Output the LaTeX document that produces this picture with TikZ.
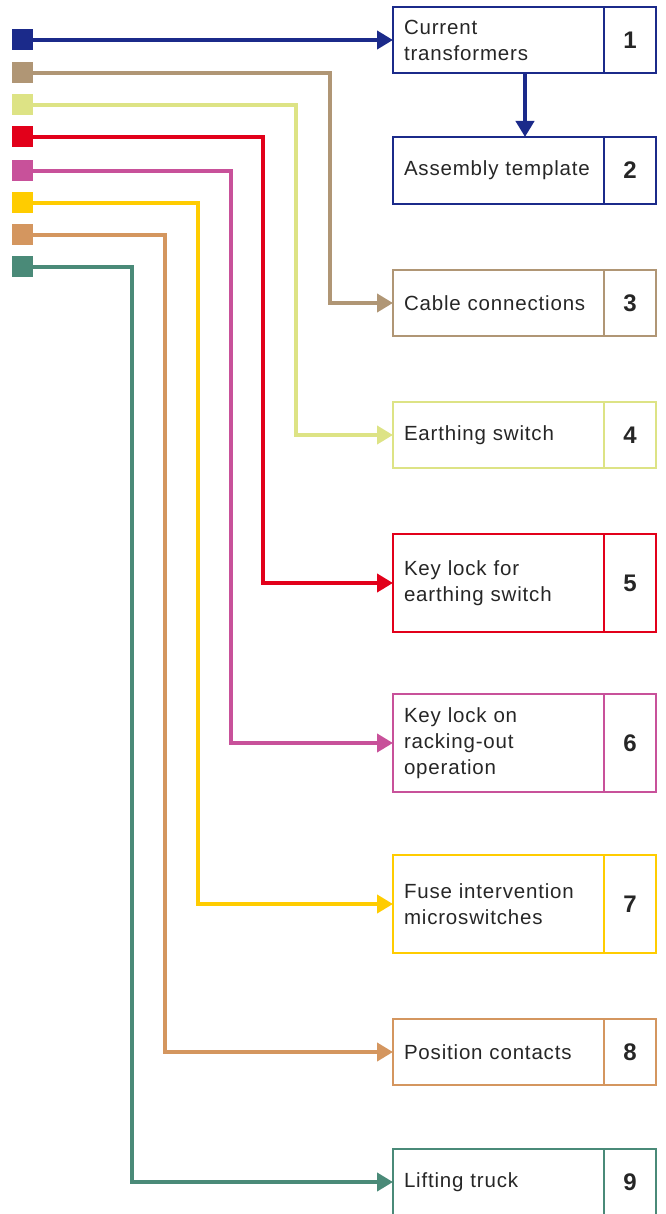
\documentclass[tikz,border=0pt]{standalone}
\usepackage{fontspec}
\setmainfont[WordSpace=1.8,LetterSpace=4]{Liberation Sans}
\usetikzlibrary{arrows.meta,positioning}

\definecolor{cnavy}{RGB}{27,42,138}
\definecolor{ctan}{RGB}{176,150,117}
\definecolor{clime}{RGB}{221,227,133}
\definecolor{cred}{RGB}{226,0,26}
\definecolor{cpink}{RGB}{200,81,154}
\definecolor{cyellow}{RGB}{255,204,0}
\definecolor{corange}{RGB}{212,150,95}
\definecolor{cgreen}{RGB}{74,138,120}

\tikzset{
  legend/.style={minimum width=21pt, minimum height=21pt, inner sep=0pt},
  itembox/.style={draw, line width=2pt, minimum width=211pt, text width=189pt,
    inner xsep=11pt, outer sep=0pt, align=left, anchor=west, text=black!85,
    font=\fontsize{20.5}{26}\selectfont},
  numbox/.style={draw, line width=2pt, minimum width=52pt, outer sep=0pt,
    anchor=west, text=black!85, font=\fontsize{24}{24}\selectfont\bfseries},
  feed/.style={line width=4pt, -{Triangle[length=16pt,width=18pt]}}
}

\begin{document}
\begin{tikzpicture}[x=1pt, y=-1pt]
\useasboundingbox (0,0) rectangle (665,1214);

% item boxes with their numbers
\foreach \i/\c/\yy/\h/\txt in {
    1/cnavy/40/66/{Current\\transformers},
    2/cnavy/170.5/67/{Assembly template},
    3/ctan/303/66/{Cable connections},
    4/clime/435/66/{Earthing switch},
    5/cred/583/98/{Key lock for\\earthing switch},
    6/cpink/743/98/{Key lock on\\racking-out\\operation},
    7/cyellow/904/98/{Fuse intervention\\microswitches},
    8/corange/1052/66/{Position contacts},
    9/cgreen/1182/66/{Lifting truck}}{
  \node[itembox, draw=\c, minimum height=\h] (t\i) at (393,\yy) {\txt};
  \node[numbox, draw=\c, minimum height=\h] (n\i) at (t\i.east) {\i};
}

% colour keys on the left
\foreach \i/\c/\yy in {1/cnavy/40, 3/ctan/73, 4/clime/105, 5/cred/137,
    6/cpink/171, 7/cyellow/203, 8/corange/235, 9/cgreen/267}
  \node[legend, fill=\c] (s\i) at (22.5,\yy) {};

% connectors
\draw[feed, cnavy] (s1.east) -- (t1.west);
\draw[feed, cnavy] ([xshift=26.5pt]t1.south) -- ([xshift=26.5pt]t2.north);
\foreach \i/\c/\d in {3/ctan/63, 4/clime/97, 5/cred/130, 6/cpink/162,
    7/cyellow/195, 8/corange/228, 9/cgreen/261}
  \draw[feed, \c] (s\i.east) -| ([xshift=-\d pt]t\i.west) -- (t\i.west);
\end{tikzpicture}
\end{document}
